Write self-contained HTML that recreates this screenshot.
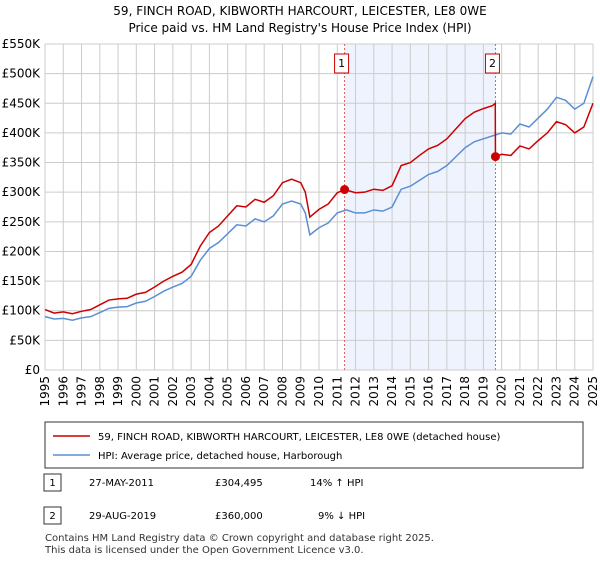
<!DOCTYPE html>
<html><head><meta charset="utf-8"><style>
body{margin:0;background:#fff;font-family:"Liberation Sans","DejaVu Sans",sans-serif;}
svg text{font-family:"DejaVu Sans","Liberation Sans",sans-serif;}
</style></head><body>
<svg width="600" height="560" xmlns="http://www.w3.org/2000/svg" id="chart">
<text x="300" y="15" font-size="12" text-anchor="middle">59, FINCH ROAD, KIBWORTH HARCOURT, LEICESTER, LE8 0WE</text>
<text x="300" y="32" font-size="12" text-anchor="middle">Price paid vs. HM Land Registry's House Price Index (HPI)</text>
<g id="plot"></g>
<rect x="45" y="422" width="538" height="46" fill="#fff" stroke="#333"/>
<line x1="53" y1="436" x2="90" y2="436" stroke="#cc0000" stroke-width="1.5"/>
<text x="98" y="440" font-size="10">59, FINCH ROAD, KIBWORTH HARCOURT, LEICESTER, LE8 0WE (detached house)</text>
<line x1="53" y1="455" x2="90" y2="455" stroke="#5b8fd4" stroke-width="1.5"/>
<text x="98" y="459" font-size="10">HPI: Average price, detached house, Harborough</text>
<rect x="44" y="474" width="17" height="17" fill="#fff" stroke="#333"/>
<text x="52.5" y="486" font-size="10" text-anchor="middle">1</text>
<text x="89" y="486" font-size="10">27-MAY-2011</text>
<text x="215" y="486" font-size="10">£304,495</text>
<text x="310" y="486" font-size="10">14% ↑ HPI</text>
<rect x="44" y="507" width="17" height="17" fill="#fff" stroke="#333"/>
<text x="52.5" y="519" font-size="10" text-anchor="middle">2</text>
<text x="89" y="519" font-size="10">29-AUG-2019</text>
<text x="215" y="519" font-size="10">£360,000</text>
<text x="318" y="519" font-size="10">9% ↓ HPI</text>
<text x="45" y="541" font-size="10" fill="#333">Contains HM Land Registry data © Crown copyright and database right 2025.</text>
<text x="45" y="553" font-size="10" fill="#333">This data is licensed under the Open Government Licence v3.0.</text>
</svg>
<script>
const hpiYears=[1995,1995.5,1996,1996.5,1997,1997.5,1998,1998.5,1999,1999.5,2000,2000.5,2001,2001.5,2002,2002.5,2003,2003.5,2004,2004.5,2005,2005.5,2006,2006.5,2007,2007.5,2008,2008.5,2009,2009.25,2009.5,2010,2010.5,2011,2011.5,2012,2012.5,2013,2013.5,2014,2014.5,2015,2015.5,2016,2016.5,2017,2017.5,2018,2018.5,2019,2019.5,2020,2020.5,2021,2021.5,2022,2022.5,2023,2023.5,2024,2024.5,2025];
const hpiValues=[90,86,87,84,88,90,97,104,106,107,113,116,124,133,140,146,158,185,205,215,230,245,243,255,250,260,280,285,280,265,228,240,248,265,270,265,265,270,268,275,305,310,320,330,335,345,360,375,385,390,395,400,398,415,410,425,440,460,455,440,450,495];
const priceYears=[1995,1995.5,1996,1996.5,1997,1997.5,1998,1998.5,1999,1999.5,2000,2000.5,2001,2001.5,2002,2002.5,2003,2003.5,2004,2004.5,2005,2005.5,2006,2006.5,2007,2007.5,2008,2008.5,2009,2009.25,2009.5,2010,2010.5,2011,2011.4,2012,2012.5,2013,2013.5,2014,2014.5,2015,2015.5,2016,2016.5,2017,2017.5,2018,2018.5,2019,2019.5,2019.65,2019.66,2020,2020.5,2021,2021.5,2022,2022.5,2023,2023.5,2024,2024.5,2025];
const priceValues=[102,96,98,95,99,102,110,118,120,121,128,131,140,150,158,165,178,209,232,243,260,277,275,288,283,294,316,322,316,300,258,271,280,299,304.5,299,300,305,303,311,345,350,362,373,379,390,407,424,435,441,446,450,360,364,362,378,373,387,400,419,414,400,410,450];
const saleYears=[2011.4,2019.66];
const saleValues=[304.495,360];
const yTicks=[0,50,100,150,200,250,300,350,400,450,500,550];
const yTickLabels=["£0","£50K","£100K","£150K","£200K","£250K","£300K","£350K","£400K","£450K","£500K","£550K"];
const xTicks=[1995,1996,1997,1998,1999,2000,2001,2002,2003,2004,2005,2006,2007,2008,2009,2010,2011,2012,2013,2014,2015,2016,2017,2018,2019,2020,2021,2022,2023,2024,2025];
const NS="http://www.w3.org/2000/svg";
const L=45,R=593,T=44,B=370;
const X=y=>L+(y-1995)/(2025-1995)*(R-L);
const Y=v=>B-v/550*(B-T);
const g=document.getElementById('plot');
function mk(t,a){const e=document.createElementNS(NS,t);for(const k in a)e.setAttribute(k,a[k]);g.appendChild(e);return e;}
const shade=mk('rect',{x:X(saleYears[0]),y:T,width:X(saleYears[1])-X(saleYears[0]),height:B-T,fill:'#eef3fd'});


yTicks.forEach((v,i)=>{
 const l=mk('line',{x1:L,x2:R,y1:Y(v),y2:Y(v),stroke:'#cccccc'});
 
 
 const t=mk('text',{x:40,y:Y(v)+4,'font-size':12,'text-anchor':'end'});
 t.textContent=yTickLabels[i];
 
 
});
xTicks.forEach(yr=>{
 const l=mk('line',{x1:X(yr),x2:X(yr),y1:T,y2:B,stroke:'#cccccc'});
 
 
 const t=mk('text',{x:0,y:0,'font-size':12,'text-anchor':'end',transform:`translate(${X(yr)+4},${B+6}) rotate(-90)`});
 t.textContent=yr;
 
 
});
saleYears.forEach((yr,i)=>{
 const l=mk('line',{x1:X(yr),x2:X(yr),y1:T,y2:B,stroke:'#e06060','stroke-dasharray':'2,2'});
 
 
 const r=mk('rect',{x:X(yr)-10,y:54,width:14,height:19,fill:'#fff',stroke:'#cc0000'});
 
 
 const t=mk('text',{x:X(yr)-3,y:67,'font-size':11,'text-anchor':'middle'});
 t.textContent=String(i+1);
 
 
});
const hp=mk('polyline',{points:hpiYears.map((y,i)=>X(y)+','+Y(hpiValues[i])).join(' '),fill:'none',stroke:'#5b8fd4','stroke-width':1.5});


const pp=mk('polyline',{points:priceYears.map((y,i)=>X(y)+','+Y(priceValues[i])).join(' '),fill:'none',stroke:'#cc0000','stroke-width':1.5});


saleYears.forEach((yr,i)=>{
 const c=mk('circle',{cx:X(yr),cy:Y(saleValues[i]),r:4.5,fill:'#cc0000'});
 
 
});
</script>
</body></html>
